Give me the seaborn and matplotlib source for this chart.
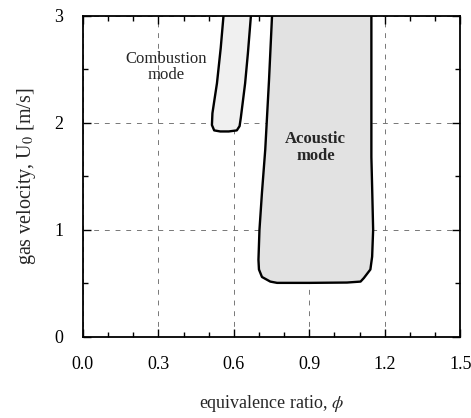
import matplotlib
matplotlib.use("Agg")
import matplotlib.pyplot as plt
import seaborn as sns
import pandas as pd

# Stability-map boundaries (equivalence ratio phi, gas velocity U0 in m/s)
combustion_phi = [0.559, 0.548, 0.533, 0.522, 0.515, 0.513, 0.522, 0.546, 0.580,
                  0.612, 0.623, 0.628, 0.636, 0.645, 0.656, 0.668]
combustion_u = [3.00, 2.70, 2.37, 2.20, 2.09, 1.98, 1.93, 1.92, 1.92,
                1.93, 1.97, 2.05, 2.20, 2.37, 2.65, 3.00]

acoustic_phi = [0.752, 0.740, 0.725, 0.712, 0.702, 0.698, 0.700, 0.712, 0.745,
                0.772, 0.900, 1.050, 1.104, 1.117, 1.143, 1.150, 1.154, 1.150,
                1.147, 1.147]
acoustic_u = [3.00, 2.40, 1.75, 1.35, 1.00, 0.72, 0.63, 0.56, 0.517,
              0.505, 0.505, 0.508, 0.517, 0.55, 0.63, 0.75, 1.00, 1.40,
              1.68, 3.00]

x_ticks = [0.0, 0.3, 0.6, 0.9, 1.2, 1.5]
y_ticks = [0, 1, 2, 3]

sns.set_theme(style="ticks")
plt.rcParams["font.family"] = ["Liberation Serif", "DejaVu Serif"]
plt.rcParams["mathtext.fontset"] = "stix"

fig = plt.figure(figsize=(4.71, 4.18), dpi=100)
ax = fig.add_axes([0.176, 0.194, 0.801, 0.768])

# Shaded regions
ax.fill(acoustic_phi, acoustic_u, color="#e2e2e2", lw=0, zorder=1)
ax.fill(combustion_phi, combustion_u, color="#f0f0f0", lw=0, zorder=1)

# Region outlines
comb = pd.DataFrame({"phi": combustion_phi, "u": combustion_u})
acou = pd.DataFrame({"phi": acoustic_phi, "u": acoustic_u})
sns.lineplot(data=comb, x="phi", y="u", sort=False, color="black", lw=1.7,
             ax=ax, zorder=3, estimator=None)
sns.lineplot(data=acou, x="phi", y="u", sort=False, color="black", lw=1.7,
             ax=ax, zorder=3, estimator=None)

ax.set_xlim(0, 1.5)
ax.set_ylim(0, 3)
ax.set_xticks(x_ticks)
ax.set_xticklabels([f"{v:.1f}" for v in x_ticks])
ax.set_yticks(y_ticks)
ax.set_yticklabels([str(v) for v in y_ticks])
ax.set_xticks([0.1, 0.2, 0.4, 0.5, 0.7, 0.8, 1.0, 1.1, 1.3, 1.4], minor=True)
ax.set_yticks([0.5, 1.5, 2.5], minor=True)

ax.grid(True, which="major", color="#777777", lw=0.7, ls=(0, (5, 6)), zorder=0)
ax.set_axisbelow(True)

ax.tick_params(which="both", direction="in", top=True, right=True,
               colors="black", labelsize=13)
ax.tick_params(axis="x", which="major", pad=14)
ax.tick_params(axis="y", which="major", pad=14)
ax.tick_params(which="major", length=6, width=1.0)
ax.tick_params(which="minor", length=3.5, width=1.0)
for s in ax.spines.values():
    s.set_color("black")
    s.set_linewidth(1.3)

ax.set_xlabel(r"equivalence ratio, $\phi$", fontsize=13, labelpad=14)
ax.set_ylabel(r"gas velocity, U$_0$ [m/s]", fontsize=14.5, labelpad=12)

ax.text(0.33, 2.52, "Combustion\nmode", ha="center", va="center",
        fontsize=12, linespacing=1.0, zorder=4)
ax.text(0.925, 1.77, "Acoustic\nmode", ha="center", va="center",
        fontsize=12, fontweight="bold", linespacing=1.1, zorder=4)

fig.savefig("out.png", dpi=100)
